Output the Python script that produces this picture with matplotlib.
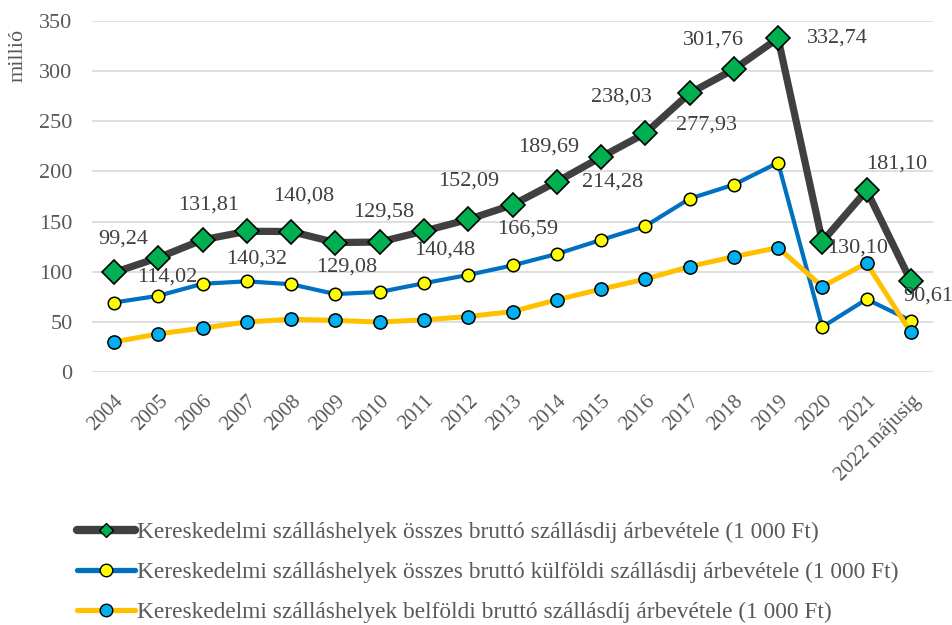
import matplotlib
matplotlib.use("Agg")
import matplotlib.pyplot as plt
from matplotlib.lines import Line2D

years = ["2004", "2005", "2006", "2007", "2008", "2009", "2010", "2011", "2012",
         "2013", "2014", "2015", "2016", "2017", "2018", "2019", "2020", "2021",
         "2022 májusig"]
total = [99.24, 114.02, 131.81, 140.32, 140.08, 129.08, 129.58, 140.48, 152.09,
         166.59, 189.69, 214.28, 238.03, 277.93, 301.76, 332.74, 130.10, 181.10, 90.61]
foreign = [69.3, 76.0, 88.0, 90.4, 87.5, 77.7, 79.8, 88.5, 96.8,
           106.3, 117.7, 131.7, 145.4, 172.8, 186.8, 208.7, 44.9, 72.6, 51.2]
domestic = [30.0, 38.0, 43.8, 49.9, 52.6, 51.4, 49.8, 52.0, 55.3,
            60.3, 72.0, 82.6, 92.6, 105.1, 115.0, 124.0, 85.2, 108.5, 39.4]
total_labels = ["99,24", "114,02", "131,81", "140,32", "140,08", "129,08", "129,58",
                "140,48", "152,09", "166,59", "189,69", "214,28", "238,03", "277,93",
                "301,76", "332,74", "130,10", "181,10", "90,61"]
legend_labels = [
    "Kereskedelmi szálláshelyek összes bruttó szállásdij árbevétele (1 000 Ft)",
    "Kereskedelmi szálláshelyek összes bruttó külföldi szállásdij árbevétele (1 000 Ft)",
    "Kereskedelmi szálláshelyek belföldi bruttó szállásdíj árbevétele (1 000 Ft)",
]

# label offsets in pixels (layout only)
label_offsets = [(9, 33), (9, -19), (6, 35), (10, -28), (12, 35), (11, -24), (4, 30),
                 (21, -19), (0, 38), (15, -24), (-8, 35), (12, -25), (-24, 36),
                 (17, -32), (-20, 29), (59, 0), (35, -7), (30, 26), (17, -15)]

plt.rcParams['font.family'] = ['Liberation Serif', 'DejaVu Serif']

fig = plt.figure(figsize=(9.52, 6.25), dpi=100)
ax = fig.add_axes([92/952, 1-372/625, (933-92)/952, (372-21)/625])

x = list(range(len(years)))
c_total_line = "#404040"
c_green = "#00B050"
c_blue = "#0070C0"
c_yellow_m = "#FFFF00"
c_orange = "#FFC000"
c_cyan = "#00B0F0"

ax.plot(x, total, color=c_total_line, lw=5.2, marker='D', ms=12.5,
        mfc=c_green, mec='black', mew=1.2, zorder=3, solid_joinstyle='round')
ax.plot(x, foreign, color=c_blue, lw=3.0, marker='o', ms=9,
        mfc=c_yellow_m, mec='black', mew=1.1, zorder=4)
ax.plot(x, domestic, color=c_orange, lw=3.6, marker='o', ms=9.5,
        mfc=c_cyan, mec='black', mew=1.1, zorder=5)

for xi, v, lab, (dx, dy) in zip(x, total, total_labels, label_offsets):
    ax.annotate(lab, (xi, v), xytext=(dx, dy), textcoords='offset pixels',
                ha='center', va='center', fontsize=16, color="#404040", zorder=6)

ax.set_xlim(-0.5, len(years) - 0.5)
ax.set_ylim(0, 350)
ax.set_yticks(range(0, 351, 50))
ax.yaxis.grid(True, color="#d9d9d9", lw=1.2)
ax.set_axisbelow(True)
for s in ax.spines.values():
    s.set_visible(False)
ax.tick_params(axis='y', length=0, pad=14, labelsize=16, labelcolor="#595959")
ax.tick_params(axis='x', length=0, pad=14, labelsize=15, labelcolor="#595959")
ax.set_xticks(x)
ax.set_xticklabels(years, rotation=45, ha='right', rotation_mode='anchor')

fig.text(18/952, 1-55/625, "millió", rotation=90, ha='center', va='center',
         fontsize=16, color="#595959")

handles = [
    Line2D([], [], color=c_total_line, lw=6, marker='D', ms=7, mfc=c_green,
           mec='black', mew=1.0, solid_capstyle='round'),
    Line2D([], [], color=c_blue, lw=3.8, marker='o', ms=9, mfc=c_yellow_m,
           mec='black', mew=1.0, solid_capstyle='round'),
    Line2D([], [], color=c_orange, lw=3.8, marker='o', ms=9, mfc=c_cyan,
           mec='black', mew=1.0, solid_capstyle='round'),
]
leg = fig.legend(handles, legend_labels, loc='upper left',
                 bbox_to_anchor=(68/952, 1-512/625), frameon=False,
                 fontsize=16.8, labelcolor="#595959", handlelength=2.45,
                 handletextpad=0.1, labelspacing=0.8, borderaxespad=0)

fig.savefig("out.png", dpi=100)
